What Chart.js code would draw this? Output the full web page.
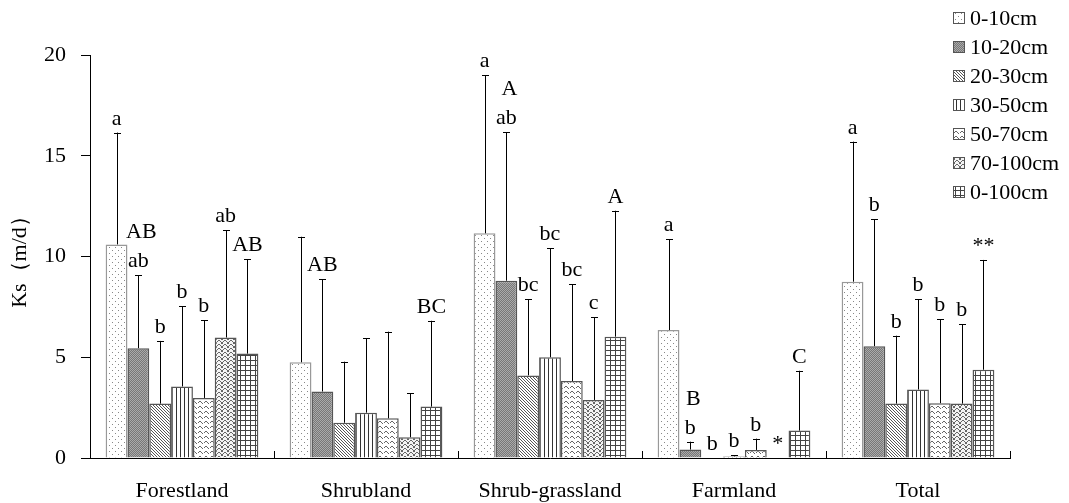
<!DOCTYPE html>
<html>
<head>
<meta charset="utf-8">
<script src="https://cdn.jsdelivr.net/npm/chart.js@4"></script>
<style>
  body { margin: 0; background: #fff; }
  canvas { display: block; }
</style>
</head>
<body>
<canvas id="ksChart" width="1069" height="503"></canvas>
<script>
const categories = ['Forestland', 'Shrubland', 'Shrub-grassland', 'Farmland', 'Total'];
const depths = ['0-10cm', '10-20cm', '20-30cm', '30-50cm', '50-70cm', '70-100cm', '0-100cm'];
const yTicks = [0, 5, 10, 15, 20];

// mean Ks per depth, one value per land use
const ks0_10 = [10.6, 4.75, 11.15, 6.35, 8.75];
const ks10_20 = [5.45, 3.3, 8.8, 0.42, 5.55];
const ks20_30 = [2.7, 1.75, 4.1, 0.02, 2.7];
const ks30_50 = [3.55, 2.25, 5.0, 0.08, 3.4];
const ks50_70 = [2.98, 1.97, 3.82, 0.4, 2.72];
const ks70_100 = [5.98, 1.03, 2.88, 0, 2.7];
const ks0_100 = [5.18, 2.55, 6.02, 1.36, 4.38];

// standard deviations (upper error bars)
const sd0_10 = [5.55, 6.23, 7.85, 4.5, 6.95];
const sd10_20 = [3.63, 5.58, 7.36, 0.39, 6.3];
const sd20_30 = [3.11, 3.03, 3.78, 0, 3.37];
const sd30_50 = [3.98, 3.69, 5.41, 0.06, 4.48];
const sd50_70 = [3.85, 4.3, 4.8, 0.56, 4.16];
const sd70_100 = [5.32, 2.18, 4.1, 0, 3.94];
const sd0_100 = [4.68, 4.26, 6.25, 2.97, 5.45];

// significance letters above each bar (\n stacks a second line on top)
const sig0_10 = ['a', '', 'a', 'a', 'a'];
const sig10_20 = ['AB\nab', 'AB', 'A\nab', 'B\nb', 'b'];
const sig20_30 = ['b', '', 'bc', 'b', 'b'];
const sig30_50 = ['b', '', 'bc', 'b', 'b'];
const sig50_70 = ['b', '', 'bc', 'b', 'b'];
const sig70_100 = ['ab', '', 'c', '*', 'b'];
const sig0_100 = ['AB', 'BC', 'A', 'C', '**'];

const means = [ks0_10, ks10_20, ks20_30, ks30_50, ks50_70, ks70_100, ks0_100];
const sds = [sd0_10, sd10_20, sd20_30, sd30_50, sd50_70, sd70_100, sd0_100];
const sigs = [sig0_10, sig10_20, sig20_30, sig30_50, sig50_70, sig70_100, sig0_100];

const FONT = '"Liberation Serif", "Times New Roman", serif';

function makePattern(w, h, bg, draw) {
  const c = document.createElement('canvas');
  c.width = w; c.height = h;
  const g = c.getContext('2d');
  g.fillStyle = bg;
  g.fillRect(0, 0, w, h);
  draw(g);
  return g.createPattern(c, 'repeat');
}

function px(g, color, pts) {
  g.fillStyle = color;
  pts.forEach(p => g.fillRect(p[0], p[1], 1, 1));
}

const patterns = [
  // sparse dots
  makePattern(6, 6, '#fff', g => px(g, '#888', [[1, 1], [4, 4]])),
  // dense dark stipple
  makePattern(2, 2, '#777', g => px(g, '#aaa', [[0, 0], [1, 1]])),
  // backslash diagonals
  makePattern(3, 3, '#fff', g => px(g, '#555', [[0, 0], [1, 1], [2, 2]])),
  // vertical lines
  makePattern(4, 4, '#fff', g => { g.fillStyle = '#333'; g.fillRect(0, 0, 1, 4); }),
  // small wave dashes
  makePattern(6, 5, '#fff', g => px(g, '#666', [[0, 2], [1, 1], [2, 1], [3, 2], [4, 3]])),
  // dense zigzag
  makePattern(6, 4, '#f4f4f4', g => px(g, '#666', [[0, 2], [1, 1], [2, 0], [3, 0], [4, 1], [5, 2], [0, 3], [5, 3]])),
  // grid
  makePattern(5, 5, '#fff', g => { g.fillStyle = '#444'; g.fillRect(0, 0, 5, 1); g.fillRect(0, 0, 1, 5); })
];
const borders = ['#999', '#555', '#555', '#555', '#555', '#555', '#555'];

const errorBarsPlugin = {
  id: 'errorBars',
  afterDatasetsDraw(chart) {
    const ctx = chart.ctx;
    const y = chart.scales.y;
    ctx.save();
    chart.data.datasets.forEach((ds, di) => {
      const meta = chart.getDatasetMeta(di);
      meta.data.forEach((bar, i) => {
        const top = y.getPixelForValue(ds.data[i] + sds[di][i]);
        if (sds[di][i] > 0) {
          ctx.strokeStyle = '#000';
          ctx.lineWidth = 1;
          ctx.beginPath();
          ctx.moveTo(Math.round(bar.x) + 0.5, bar.y);
          ctx.lineTo(Math.round(bar.x) + 0.5, top);
          ctx.moveTo(Math.round(bar.x) - 3, Math.round(top) + 0.5);
          ctx.lineTo(Math.round(bar.x) + 4, Math.round(top) + 0.5);
          ctx.stroke();
        }
        const lines = sigs[di][i] ? sigs[di][i].split('\n').reverse() : [];
        ctx.fillStyle = '#000';
        ctx.font = '22px ' + FONT;
        ctx.textAlign = 'center';
        ctx.textBaseline = 'alphabetic';
        lines.forEach((t, k) => {
          ctx.fillText(t, bar.x + (k > 0 ? 3 : 0), top - 8 - k * 29);
        });
      });
    });
    ctx.restore();
  }
};

const frameTicksPlugin = {
  id: 'frameTicks',
  afterDraw(chart) {
    const ctx = chart.ctx;
    const x = chart.scales.x;
    const bottom = chart.chartArea.bottom;
    ctx.save();
    ctx.strokeStyle = '#000';
    ctx.lineWidth = 1;
    ctx.beginPath();
    for (let i = 1; i <= categories.length; i++) {
      const bx = i < categories.length
        ? (x.getPixelForValue(i - 1) + x.getPixelForValue(i)) / 2
        : chart.chartArea.right;
      ctx.moveTo(Math.round(bx) + 0.5, bottom);
      ctx.lineTo(Math.round(bx) + 0.5, bottom - 7);
    }
    ctx.stroke();

    // legend, top right
    ctx.font = '22px ' + FONT;
    ctx.textBaseline = 'middle';
    ctx.textAlign = 'left';
    depths.forEach((d, i) => {
      const ly = 18 + i * 29;
      ctx.fillStyle = patterns[i];
      ctx.fillRect(953, ly - 6, 12, 12);
      ctx.strokeStyle = '#555';
      ctx.strokeRect(953.5, ly - 5.5, 11, 11);
      ctx.fillStyle = '#000';
      ctx.fillText(d, 970, ly + 1);
    });
    ctx.restore();
  }
};

new Chart(document.getElementById('ksChart').getContext('2d'), {
  type: 'bar',
  data: {
    labels: categories,
    datasets: depths.map((d, i) => ({
      label: d,
      data: means[i],
      backgroundColor: patterns[i],
      borderColor: borders[i],
      borderWidth: 1.5,
      categoryPercentage: 0.83,
      barPercentage: 1.0
    }))
  },
  options: {
    responsive: false,
    animation: false,
    devicePixelRatio: 1,
    layout: { padding: { top: 55, right: 59, left: 0, bottom: 0 } },
    plugins: {
      legend: { display: false },
      tooltip: { enabled: false }
    },
    scales: {
      x: {
        grid: { display: false, drawTicks: false },
        border: { display: true, color: '#000', width: 1 },
        ticks: { color: '#000', font: { family: FONT, size: 22 }, padding: 20 },
        afterFit(scale) { scale.height = 45; }
      },
      y: {
        min: 0,
        max: 20,
        afterBuildTicks(scale) { scale.ticks = yTicks.map(v => ({ value: v })); },
        grid: { display: true, drawOnChartArea: false, drawTicks: true, tickLength: 9, color: '#000' },
        border: { display: true, color: '#000', width: 1 },
        ticks: { color: '#000', font: { family: FONT, size: 22 }, padding: 15 },
        title: {
          display: true,
          text: 'Ks（m/d）',
          color: '#000',
          font: { family: FONT, size: 22 },
          padding: { top: 7, bottom: 0 }
        },
        afterFit(scale) { scale.width = 90; }
      }
    }
  },
  plugins: [errorBarsPlugin, frameTicksPlugin]
});
</script>
</body>
</html>
